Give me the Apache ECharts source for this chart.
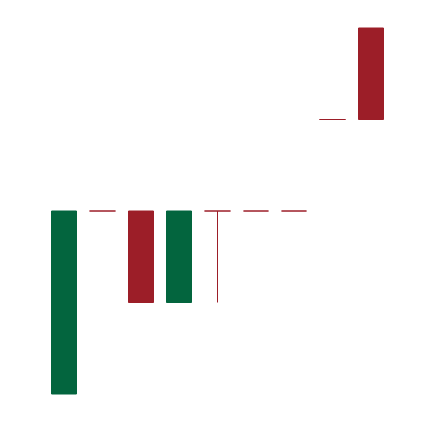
<!DOCTYPE html>
<html>
<head>
<meta charset="utf-8">
<script src="https://cdn.jsdelivr.net/npm/echarts@6/dist/echarts.min.js"></script>
<style>
  html, body { margin: 0; padding: 0; background: #fff; }
  #main { width: 434px; height: 422px; }
</style>
</head>
<body>
<div id="main"></div>
<script>
// categories and [open, close, lowest, highest]
const categories = ['1', '2', '3', '4', '5', '6', '7', '8', '9'];
const openValues = [30, 30, 20, 30, 30, 30, 30, 40, 40];
const closeValues = [10, 30, 30, 20, 30, 30, 30, 40, 50];
const lowValues = [10, 30, 20, 20, 20, 30, 30, 40, 40];
const highValues = [30, 30, 30, 30, 30, 30, 30, 40, 50];

const upColor = '#9c1e28';
const downColor = '#03653e';

let candles = categories.map(function (c, i) {
  return [openValues[i], closeValues[i], lowValues[i], highValues[i]];
});

let option = {
  animation: false,
  grid: {
    left: 45,
    right: 44,
    top: 28,
    bottom: 28,
    containLabel: false
  },
  xAxis: {
    type: 'category',
    data: categories,
    show: false
  },
  yAxis: {
    type: 'value',
    min: 10,
    max: 50,
    show: false
  },
  series: [
    {
      type: 'candlestick',
      barWidth: 26,
      itemStyle: {
        color: upColor,
        color0: downColor,
        borderColor: upColor,
        borderColor0: downColor,
        borderColorDoji: upColor,
        borderWidth: 1
      },
      data: candles
    }
  ]
};

let chart = echarts.init(document.getElementById('main'));
chart.setOption(option);
</script>
</body>
</html>
